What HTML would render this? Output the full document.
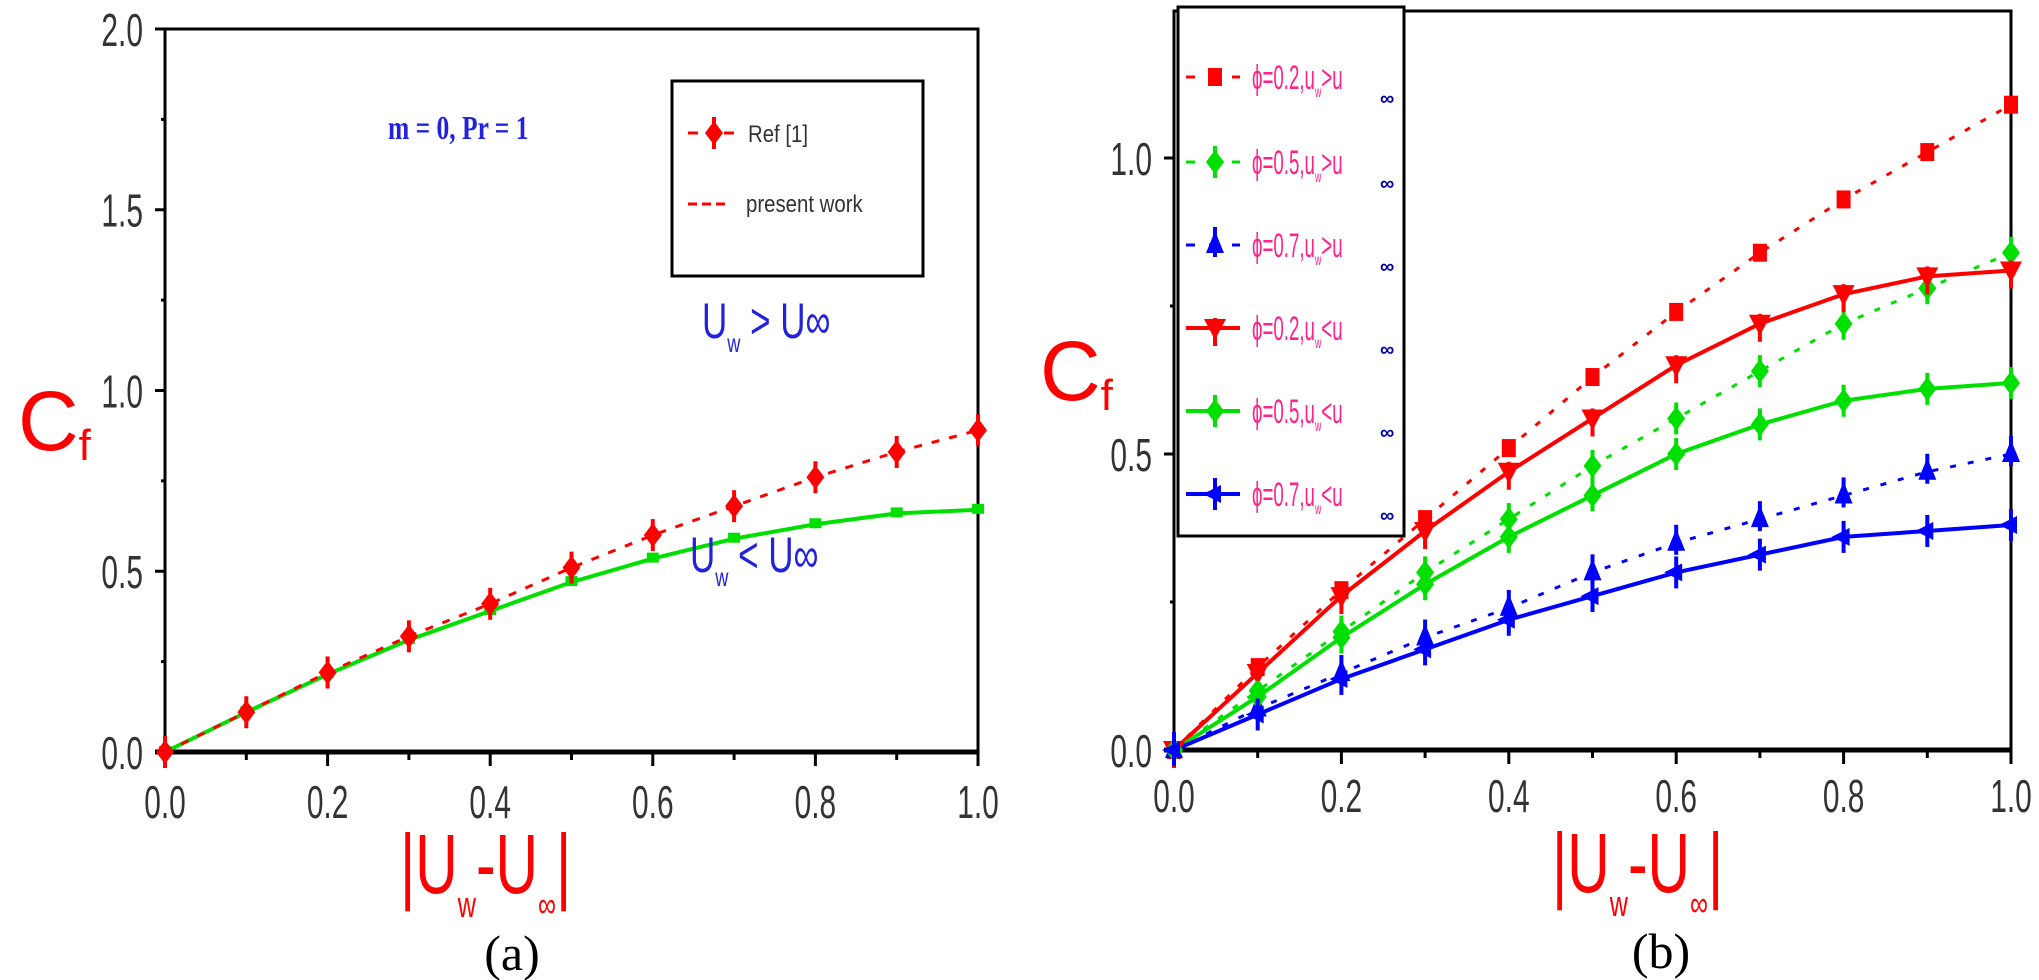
<!DOCTYPE html>
<html><head><meta charset="utf-8"><style>
html,body{margin:0;padding:0;background:#fff;width:2039px;height:980px;overflow:hidden}
</style></head><body>
<svg id="s" width="2039" height="980" xmlns="http://www.w3.org/2000/svg" font-family="Liberation Sans, sans-serif"></svg>
<script>
const S=document.getElementById('s');let h='';
// ---------- Panel (a)
const aL=165,aR=978,aB=752,aT=29;
const ax_=v=>aL+v*(aR-aL), ay=v=>aB-v*(aB-aT)/2;
h+=`<rect x="${aL}" y="${aT}" width="${aR-aL}" height="${aB-aT}" fill="none" stroke="#000" stroke-width="3"/>`;
h+=`<line x1="${aL-10}" y1="${aB}" x2="${aR}" y2="${aB}" stroke="#000" stroke-width="5"/>`;
for(let i=0;i<=8;i++){let y=ay(i*0.25);h+=`<line x1="${aL-(i%2?4:10)}" y1="${y}" x2="${aL}" y2="${y}" stroke="#000" stroke-width="3"/>`;
 if(i%2==0)h+=`<text x="${aL-22}" y="${y+17}" font-size="46" fill="#333" text-anchor="end" transform="translate(${(aL-22)*0.35},0) scale(0.65,1)">${(i*0.25).toFixed(1)}</text>`;}
for(let i=0;i<=10;i++){let x=ax_(i/10);h+=`<line x1="${x}" y1="${aB}" x2="${x}" y2="${aB+(i%2?8:14)}" stroke="#000" stroke-width="3"/>`;
 if(i%2==0)h+=`<text x="${x}" y="${aB+66}" font-size="46" fill="#333" text-anchor="middle" transform="translate(${x*0.35},0) scale(0.65,1)">${(i/10).toFixed(1)}</text>`;}
const ref=[0,.11,.22,.32,.41,.51,.60,.68,.76,.83,.89], gr=[0,.11,.215,.31,.39,.47,.535,.59,.63,.66,.67];
function pts(arr,fx,fy){return arr.map((v,i)=>fx(i/10)+','+fy(v)).join(' ');}
h+=`<polyline points="${pts(gr,ax_,ay)}" fill="none" stroke="#00e000" stroke-width="4"/>`;
h+=`<polyline points="${pts(ref,ax_,ay)}" fill="none" stroke="#f00" stroke-width="3" stroke-dasharray="8,10"/>`;
gr.forEach((v,i)=>{h+=`<rect x="${ax_(i/10)-6}" y="${ay(v)-6}" width="12" height="10" fill="#00e000"/>`});
function dia(x,y,c){return `<path d="M${x} ${y-12} L${x+9} ${y} L${x} ${y+12} L${x-9} ${y}Z" fill="${c}"/><rect x="${x-2}" y="${y-16}" width="4" height="32" fill="${c}"/>`;}
ref.forEach((v,i)=>{h+=dia(ax_(i/10),ay(v),'#f00')});
// legend a
h+=`<rect x="672" y="81" width="251" height="195" fill="#fff" stroke="#000" stroke-width="3"/>`;
h+=`<line x1="688" y1="133" x2="738" y2="133" stroke="#f00" stroke-width="3" stroke-dasharray="10,8"/>`+dia(714,133,'#f00');
h+=`<text x="748" y="142" font-size="24" fill="#333" transform="translate(${748*0.15},0) scale(0.85,1)">Ref [1]</text>`;
h+=`<line x1="688" y1="204" x2="730" y2="204" stroke="#f00" stroke-width="3" stroke-dasharray="9,5"/>`;
h+=`<text x="746" y="212" font-size="24" fill="#333" transform="translate(${746*0.15},0) scale(0.85,1)">present work</text>`;
h+=`<text x="388" y="139" font-size="34" fill="#22d" font-family="Liberation Serif,serif" font-weight="bold" transform="translate(${388*0.25},0) scale(0.75,1)">m = 0, Pr = 1</text>`;
h+=`<text x="702" y="338" font-size="50" fill="#22d" transform="translate(${702*0.3},0) scale(0.7,1)">U<tspan font-size="26" dy="14">w</tspan><tspan dy="-14"> &gt; U∞</tspan></text>`;
h+=`<text x="690" y="572" font-size="50" fill="#22d" transform="translate(${690*0.3},0) scale(0.7,1)">U<tspan font-size="26" dy="14">w</tspan><tspan dy="-14"> &lt; U∞</tspan></text>`;
h+=`<text x="18" y="450" font-size="84" fill="#f00">C<tspan font-size="44" dy="10">f</tspan></text>`;
h+=`<text x="400" y="893" font-size="84" fill="#f00" transform="translate(${400*0.3},0) scale(0.7,1)">|U<tspan font-size="36" dy="24">w</tspan><tspan dy="-24">-U</tspan><tspan font-size="36" dy="24">∞</tspan><tspan dy="-24">|</tspan></text>`;
h+=`<text x="512" y="970" font-size="50" fill="#000" font-family="Liberation Serif,serif" text-anchor="middle">(a)</text>`;
// ---------- Panel (b)
const bL=1174,bR=2011,bB=750,bT=11;
const bx=v=>bL+v*(bR-bL), by=v=>bB-v*592;
h+=`<rect x="${bL}" y="${bT}" width="${bR-bL}" height="${bB-bT}" fill="none" stroke="#000" stroke-width="3"/>`;
h+=`<line x1="${bL-10}" y1="${bB}" x2="${bR}" y2="${bB}" stroke="#000" stroke-width="5"/>`;
for(let i=0;i<=4;i++){let y=by(i*0.25);h+=`<line x1="${bL-(i%2?4:10)}" y1="${y}" x2="${bL}" y2="${y}" stroke="#000" stroke-width="3"/>`;
 if(i%2==0)h+=`<text x="${bL-22}" y="${y+17}" font-size="46" fill="#333" text-anchor="end" transform="translate(${(bL-22)*0.35},0) scale(0.65,1)">${(i*0.25).toFixed(1)}</text>`;}
for(let i=0;i<=10;i++){let x=bx(i/10);h+=`<line x1="${x}" y1="${bB}" x2="${x}" y2="${bB+(i%2?8:14)}" stroke="#000" stroke-width="3"/>`;
 if(i%2==0)h+=`<text x="${x}" y="${bB+62}" font-size="46" fill="#333" text-anchor="middle" transform="translate(${x*0.35},0) scale(0.65,1)">${(i/10).toFixed(1)}</text>`;}
const R='#f00',G='#00e000',B='#00f';
const series=[
 [[0,.14,.27,.39,.51,.63,.74,.84,.93,1.01,1.09],R,true,'sq'],
 [[0,.10,.20,.30,.39,.48,.56,.64,.72,.78,.84],G,true,'dia'],
 [[0,.07,.13,.19,.24,.30,.35,.39,.43,.47,.50],B,true,'tri'],
 [[0,.13,.26,.37,.47,.56,.65,.72,.77,.80,.81],R,false,'dtri'],
 [[0,.09,.19,.28,.36,.43,.50,.55,.59,.61,.62],G,false,'dia'],
 [[0,.06,.12,.17,.22,.26,.30,.33,.36,.37,.38],B,false,'ltri']];
function mk(t,x,y,c){
 if(t=='sq')return `<rect x="${x-7}" y="${y-9}" width="14" height="18" fill="${c}"/>`;
 if(t=='dia')return dia(x,y,c);
 if(t=='tri')return `<path d="M${x} ${y-14} L${x+9} ${y+8} L${x-9} ${y+8}Z" fill="${c}"/><rect x="${x-2}" y="${y-18}" width="4" height="30" fill="${c}"/>`;
 if(t=='dtri')return `<path d="M${x-11} ${y-9} L${x+11} ${y-9} L${x} ${y+12}Z" fill="${c}"/><rect x="${x-2}" y="${y-10}" width="4" height="28" fill="${c}"/>`;
 return `<path d="M${x-12} ${y} L${x+6} ${y-9} L${x+6} ${y+9}Z" fill="${c}"/><rect x="${x-2}" y="${y-16}" width="4" height="32" fill="${c}"/>`;
}
series.forEach(s=>{h+=`<polyline points="${pts(s[0],bx,by)}" fill="none" stroke="${s[1]}" stroke-width="${s[2]?3:4}" ${s[2]?'stroke-dasharray="6,12"':''}/>`;});
series.forEach(s=>{s[0].forEach((v,i)=>{h+=mk(s[3],bx(i/10),by(v),s[1])})});
// legend b
h+=`<rect x="1178" y="7" width="226" height="529" fill="#fff" stroke="#000" stroke-width="3"/>`;
const ly=[77,162,245,328,411,494];
const lab=['0.2,u<tspan font-size="16" dy="8">w</tspan><tspan dy="-8">&gt;u</tspan>','0.5,u<tspan font-size="16" dy="8">w</tspan><tspan dy="-8">&gt;u</tspan>','0.7,u<tspan font-size="16" dy="8">w</tspan><tspan dy="-8">&gt;u</tspan>','0.2,u<tspan font-size="16" dy="8">w</tspan><tspan dy="-8">&lt;u</tspan>','0.5,u<tspan font-size="16" dy="8">w</tspan><tspan dy="-8">&lt;u</tspan>','0.7,u<tspan font-size="16" dy="8">w</tspan><tspan dy="-8">&lt;u</tspan>'];
series.forEach((s,i)=>{let y=ly[i];
 h+=`<line x1="1186" y1="${y}" x2="1240" y2="${y}" stroke="${s[1]}" stroke-width="${s[2]?3:4}" ${s[2]?'stroke-dasharray="9,14"':''}/>`+mk(s[3],1215,y,s[1]);
 h+=`<text x="1252" y="${y+12}" font-size="34" fill="#ff2288" transform="translate(${1252*0.45},0) scale(0.55,1)">ϕ=${lab[i]}</text>`;
 h+=`<text x="1380" y="${y+28}" font-size="20" fill="#00a" font-weight="bold">∞</text>`;});
h+=`<text x="1040" y="400" font-size="84" fill="#f00">C<tspan font-size="44" dy="10">f</tspan></text>`;
h+=`<text x="1552" y="892" font-size="84" fill="#f00" transform="translate(${1552*0.3},0) scale(0.7,1)">|U<tspan font-size="36" dy="24">w</tspan><tspan dy="-24">-U</tspan><tspan font-size="36" dy="24">∞</tspan><tspan dy="-24">|</tspan></text>`;
h+=`<text x="1661" y="968" font-size="50" fill="#000" font-family="Liberation Serif,serif" text-anchor="middle">(b)</text>`;
S.innerHTML=h;
</script>
</body></html>
